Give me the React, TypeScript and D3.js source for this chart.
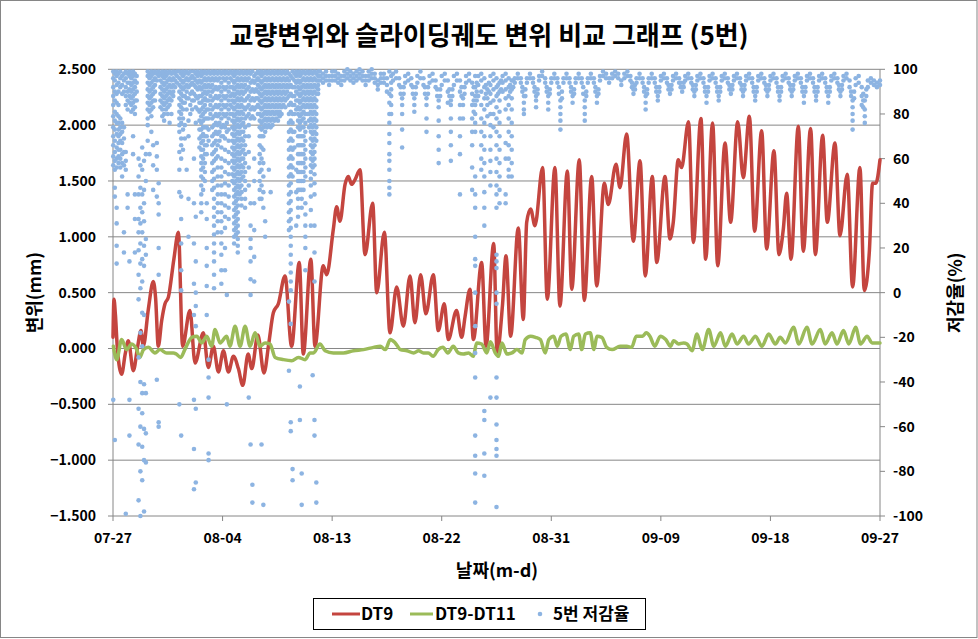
import React from 'react';
import * as d3 from 'd3';

const W = 978, H = 639;
const xTickDays = [0, 9, 18, 27, 36, 45, 54, 63];
const xTickLabels = ["07-27", "08-04", "08-13", "08-22", "08-31", "09-09", "09-18", "09-27"];
const leftTicks = [-1.5, -1, -0.5, 0, 0.5, 1, 1.5, 2, 2.5];
const rightTicks = [-100, -80, -60, -40, -20, 0, 20, 40, 60, 80, 100];
const seriesNames = ["DT9", "DT9-DT11", "5번 저감율"];

// DT9 [day, mm]
const dt9: [number, number][] = [
  [0.0,0.10],[0.08,0.44],[0.2,0.30],[0.36,0.0],[0.71,-0.23],[1.0,-0.05],[1.26,0.07],[1.67,-0.20],[2.0,0.0],[2.3,0.16],[2.49,0.02],[2.9,0.35],[3.31,0.60],[3.5,0.45],[3.72,0.02],[4.0,0.25],[4.27,0.40],[4.55,0.46],[5.0,0.80],[5.37,1.04],[5.72,0.02],[6.32,0.34],[6.74,-0.13],[7.42,0.14],[7.83,-0.17],[8.24,0.02],[8.66,-0.21],[9.07,-0.02],[9.48,-0.21],[9.89,-0.07],[10.3,-0.18],[10.66,-0.33],[11.1,-0.05],[11.4,-0.18],[11.9,0.12],[12.4,-0.22],[12.8,0.05],[13.17,0.32],[13.58,0.40],[14.13,0.65],[14.67,0.02],[15.3,0.77],[15.63,-0.05],[16.25,0.80],[16.59,0.02],[17.27,0.74],[17.55,0.66],[18.1,1.07],[18.37,1.27],[18.64,1.14],[19.06,1.47],[19.33,1.54],[19.6,1.47],[19.87,1.51],[20.29,1.60],[20.7,0.84],[21.33,1.30],[21.66,0.50],[22.29,1.04],[22.75,0.14],[23.3,0.55],[23.85,0.20],[24.4,0.65],[24.8,0.23],[25.27,0.66],[25.7,0.31],[26.31,0.66],[26.72,0.16],[27.21,0.40],[27.54,0.08],[28.22,0.34],[28.64,0.10],[28.91,0.28],[29.32,0.53],[29.6,0.08],[30.28,0.77],[30.64,0.02],[31.27,0.94],[31.55,-0.04],[32.0,0.4],[32.28,0.83],[32.66,0.11],[33.29,1.08],[33.7,0.26],[33.98,1.13],[34.3,1.25],[34.66,1.10],[35.29,1.62],[35.67,0.44],[36.3,1.62],[36.71,0.38],[37.32,1.59],[37.68,0.53],[38.3,1.69],[38.71,0.43],[39.32,1.54],[39.73,0.56],[40.36,1.48],[40.68,1.29],[41.32,1.65],[41.64,1.44],[42.19,1.92],[42.74,0.96],[43.29,1.68],[43.72,0.65],[44.3,1.54],[44.66,0.77],[45.34,1.54],[45.75,0.98],[46.02,1.13],[46.43,1.69],[46.7,1.62],[47.27,2.03],[47.67,0.95],[48.29,2.06],[48.68,0.80],[49.25,2.02],[49.67,0.74],[50.27,1.84],[50.73,1.13],[51.31,2.03],[51.77,1.53],[52.27,2.08],[52.7,1.05],[53.28,1.95],[53.69,0.89],[54.29,1.77],[54.7,0.84],[55.06,1.07],[55.33,1.39],[55.69,0.80],[56.29,1.99],[56.7,0.87],[57.3,1.97],[57.69,0.84],[58.29,1.91],[58.67,1.13],[59.3,1.84],[59.71,1.01],[60.31,1.56],[60.75,0.55],[61.35,1.62],[61.71,0.52],[62.12,0.86],[62.39,1.48],[62.66,1.48],[63.0,1.69]
];

// DT9-DT11 [day, mm]
const dt9dt11: [number, number][] = [
  [0.03,0.02],[0.3,-0.10],[0.71,0.08],[1.12,-0.01],[1.53,0.04],[1.95,-0.01],[2.2,-0.08],[2.5,-0.01],[2.9,0.01],[3.45,-0.04],[3.86,-0.01],[4.4,-0.04],[4.96,-0.04],[5.2,-0.05],[5.56,-0.08],[5.9,-0.01],[6.47,0.10],[6.88,0.11],[7.29,0.05],[7.7,0.11],[8.1,0.02],[8.38,0.17],[8.8,0.05],[9.34,0.11],[9.6,0.02],[10.03,0.20],[10.44,0.02],[10.85,0.20],[11.26,0.02],[11.67,0.14],[12.08,0.02],[12.49,0.05],[12.9,0.04],[13.32,-0.08],[14.0,-0.10],[14.68,-0.11],[15.23,-0.08],[15.78,-0.10],[16.19,-0.04],[16.47,-0.04],[17.0,0.04],[17.42,-0.02],[18.1,-0.04],[18.93,-0.04],[19.75,-0.02],[20.58,-0.01],[21.4,0.01],[21.95,0.02],[22.37,-0.01],[22.78,0.08],[23.18,0.05],[23.6,-0.01],[24.15,-0.02],[24.7,-0.04],[25.1,-0.02],[25.5,-0.04],[25.9,-0.04],[26.3,-0.07],[26.7,-0.01],[27.1,0.01],[27.5,-0.04],[27.95,0.02],[28.36,-0.04],[28.77,-0.05],[29.2,-0.04],[29.6,-0.07],[29.87,0.05],[30.28,0.04],[30.7,-0.04],[31.0,0.06],[31.4,-0.04],[31.67,-0.07],[31.95,0.05],[32.36,-0.05],[32.77,-0.04],[33.18,-0.01],[33.6,-0.04],[33.86,0.08],[34.3,0.11],[34.7,0.10],[35.1,0.08],[35.5,-0.04],[35.8,0.08],[36.2,0.11],[36.5,0.02],[36.8,0.11],[37.2,0.13],[37.56,-0.01],[37.84,0.11],[38.25,0.13],[38.5,-0.01],[38.8,0.13],[39.2,0.14],[39.5,-0.01],[39.75,0.11],[40.15,0.10],[40.55,0.01],[41.0,-0.01],[41.65,0.02],[42.2,0.02],[42.6,0.01],[42.98,0.11],[43.5,0.11],[43.8,0.14],[44.1,0.11],[44.5,0.02],[44.96,0.11],[45.4,0.08],[45.8,0.02],[46.05,0.07],[46.46,0.04],[46.87,0.05],[47.15,0.04],[47.56,-0.02],[47.97,0.13],[48.4,-0.01],[48.93,0.17],[49.35,0.02],[49.9,0.14],[50.3,0.02],[50.85,0.13],[51.26,0.04],[51.8,0.11],[52.2,0.04],[52.77,0.11],[53.3,0.02],[53.86,0.13],[54.4,0.04],[54.8,0.10],[55.23,0.05],[55.9,0.19],[56.33,0.04],[57.0,0.19],[57.42,0.04],[58.1,0.17],[58.5,0.04],[59.06,0.14],[59.47,0.04],[60.0,0.16],[60.44,0.04],[61.0,0.19],[61.4,0.04],[61.94,0.11],[62.35,0.05],[63.0,0.05]
];

// 5번 저감율 [day, values (%) observed around that time]
const rateEarly: [number, number[]][] = [
  [0.02,[99,96,92,88,84,79,74,70,66,61,57,-48]],
  [0.15,[98,95,90,86,81,77,73,68,63,59,55,47,43,-66]],
  [0.3,[99,97,93,89,85,80,76,71,65,60,56,38,31,21,13]],
  [0.45,[98,94,90,84,79,76,73,70,67,64,61,58]],
  [0.6,[99,96,92,78,74,71,68,64,60,56]],
  [0.75,[97,93,89,76,72,67,62,58,52]],
  [0.9,[98,95,90,74,69,63,57,27,18]],
  [1.05,[99,96,92,88,84,63,59,55,-99]],
  [1.2,[98,94,90,86,82,44,38]],
  [1.35,[99,97,94,91,88,85,14,-48,-64]],
  [1.5,[98,96,93,90,87,84,81]],
  [1.65,[99,97,94,91,88,85,82,70,62]],
  [1.8,[98,95,92,89,86,83,80,44,33,18]],
  [1.95,[97,94,90,86]],
  [2.1,[60,52,44,33,27,19,8,-3,-29,-52,-68,-93]],
  [2.25,[57,47,38,31,22,13,2,-18,-40,-60,-80,-100]],
  [2.4,[65,55,44,36,27,15,5,-9,-24,-45,-54,-69,-84]],
  [2.55,[59,46,40,32,21,12,-10,-41,-61,-75,-98]],
  [2.7,[62,50,24,17,-45,-63,-76]],
  [2.85,[99,97,94,91,88,85,82,78,75,68]],
  [3.0,[98,96,93,90,87,84,81,62]],
  [3.15,[99,97,94,91,88,85,82,79,72]],
  [3.3,[98,95,92,89,86,83,66,57,46]],
  [3.45,[99,96,93,90,86]],
  [3.6,[98,95,67,61,55,43,-39]],
  [3.75,[99,97,49,40,35,20,8,-58,-60]],
  [3.9,[98,95,92,89,86,83]],
  [4.05,[99,97,94,91,88,85,82,79]],
  [4.2,[98,96,93,90,87,84,80,77]],
  [4.35,[99,97,94,91,88,85,82]],
  [4.5,[98,95,92,89,86,83,80]],
  [4.65,[99,96,93,90,87,84,76]],
  [4.8,[98,95,92,89,86,80]],
  [4.95,[99,96,93,90,88]],
  [5.1,[98,95,92]],
  [5.25,[99,97,94]],
  [5.45,[99,96,93,90,87,84,81,78,75,72,63,55,45,-50]],
  [5.6,[98,95,92,89,86,83,80,76,69,66,60,43,33,22,10,1,-64]],
  [5.75,[99,97,94,91,88,85,82,78,73,64]],
  [5.9,[98,95,92,88,85,75,69]],
  [6.05,[99,96,93,90,87,82,55]],
  [6.2,[98,95,92,87,77,70,42,25]],
  [6.35,[99,96,93,89,84,80]],
  [6.5,[97,94,90,86,82]],
  [6.65,[99,96,93,89,86,60,40,22,4,-10,-48,-70,-88]],
  [6.8,[98,95,92,88,83,76,34,14,0,-6,-15,-52,-85]],
  [6.95,[99,97,94,91,87,82]],
  [7.1,[98,95,92,88,85,81,77,73,69,65]],
  [7.25,[99,97,94,91,88,85,82,79,76,73,70,67,64,61,58,55,52,48,44,40,36]],
  [7.4,[98,95,92,89,86,83,80,77,74,71,68,64,60,56,51,46]],
  [7.55,[99,96,93,90,87,84,81,78,74,70,66,62,58,54,50]],
  [7.7,[98,95,92,89,86,82,78,74,70,66,62,40,33,20,12,3,-10]],
  [7.85,[99,96,93,90,86,82,78,73,68,-30,-38,-47,-72,-75]],
  [8.0,[98,95,92,88,84,80]],
  [8.15,[99,96,93,90,86,82,78,74,70,66,62,58,54,50,46]],
  [8.3,[98,95,91,87,83,79,75,71,67,63,59,55,51,47,42,38,34,30,26,22,18,14,8,2]],
  [8.45,[99,96,92,88,84,80,76,72,68,64,60]],
  [8.6,[98,95,91,87,83,79,75,71,66,61,56,52,48,44,40,36,32,27]],
  [8.75,[99,96,92,88,84,80,76,72,68]],
  [8.9,[98,94,90,86,82,78,74,70,65,60,56,52,48,44,40,36,32,27,22,17,10,4]],
  [9.05,[99,96,92,88,84,80,75,70]],
  [9.2,[98,95,91,87,83,79,74,69,64,59,54,49,44,39,34,29,20,10]],
  [9.35,[99,96,92,88,84,80,76,72,-1,-50]],
  [9.5,[98,94,90,86,82,78,73,68,63,58,53,48,43,38,33]],
  [9.65,[99,96,92,88,84,80]],
  [9.8,[98,95,92,89,86,83,80,77,74,71,68,65,62,59,56,53,50]],
  [9.95,[99,97,94,91,88,85,82,79,76,73,70,67,64,61,58,55,52,49,46,43,40,37,34,31,28,25,22]],
  [10.1,[98,95,92,89,86,83,80,77,74,71,68,65,62,59,56,53,50,47,44,41,38,35,32,29,26]],
  [10.25,[99,96,93,90,87,84,81,78,75,72,69,66,63,60,57,54,51,48,45,42,39,36,33,30,27,24,21,18]],
  [10.4,[98,95,92,89,86,83,80,77,74,71,68,65,62,59,56,53,50,47,44]],
  [10.55,[99,96,93,90,87,84,81,78,75,72,69,66,63,60,57,54,51,48,45,42,39]],
  [10.7,[98,95,92,89,86,83,80,76,72,68,64,60,56,52]],
  [10.85,[99,96,93,90,86,82,78,74,70,66,62,58,54,50,46,42,38]],
  [11.0,[98,95,91,87,83,79]],
  [11.15,[99,96,92,88,84,80,75,70,63,56,48,-47]],
  [11.3,[98,94,90,86,82,78,40,30,24,20,14,6,-1,-68]],
  [11.45,[99,95,91,87,83,79,-86,-94]],
  [11.6,[97,94,90,86,82,78,60,50,40,28,16,5]],
  [11.75,[98,95,91,87,83]],
  [11.9,[99,96,93,90,87,84,80]],
  [12.05,[98,95,92,89,86,83,80,77,74,70,66,62,58,54,50,46,42]],
  [12.2,[99,97,94,91,88,85,82,79,76,73,70,65,60,55,48,42,-68]],
  [12.35,[98,95,92,89,86,83,80,77,74,70,64,58,52,45,38,-95]],
  [12.5,[99,96,93,90,87,84,81,78,75,72,32,25]],
  [12.65,[98,95,92,89,86,83,80,77,74]],
  [12.8,[99,96,93,90,87,84,81,78,75,55]],
  [12.95,[98,95,92,89,86,83,80,77,74,45]],
  [13.1,[99,96,93,90,87,84,81,78,75]],
  [13.25,[98,95,92,89,86,83,80,77]],
  [13.4,[99,96,93,90,87,84,81,78]],
  [13.55,[98,95,92,89,86,83,80,77]],
  [13.7,[99,96,93,90,87,84,81,79]],
  [13.85,[98,95,92,89,86,83,80]],
  [14.0,[99,96,93,90,87,84]],
  [14.15,[98,95,92,89,86,83]],
  [14.3,[99,96,93,90,87]],
  [14.45,[98,95,92,88,84,80,76,72,68,64,60,56,52,48,44,40,36,32,28,-4,-35]],
  [14.6,[97,93,89,85,81,77,73,69,65,61,57,53,49,45,41,37,33,29,25,21,17,13,9,5,1,-14,-58,-62]],
  [14.75,[99,96,92,88,84,80,76,72,68,64,60,56,52,-79,-84]],
  [14.9,[98,95,92,88,84,80,72,65]],
  [15.05,[99,97,94,90,86,82,55,45,30]],
  [15.2,[98,95,92,89,86,83,80,77,74,70,66,62,58,54,50,46,42,38,34]],
  [15.35,[99,97,94,91,88,85,82,79,76,73,70,66,62,58,54,50,46,-42,-57]],
  [15.5,[98,95,92,89,86,83,80,77,74,70,66,62,58,54,50,46,42,38,-81,-95]],
  [15.65,[99,96,93,90,87,84,81,78,74,70,66,62,58,54,50,46]],
  [15.8,[98,95,92,89,86,83,80,76,72,68,64,60,56,52,40,35,30,25,20,10]],
  [15.95,[99,96,93,90,87,84,80]],
  [16.1,[98,95,92,89,86,83,80,77,74]],
  [16.25,[99,96,93,90,87,84,81,78,75,72,69,66,63,60,57,54,51,48,43,37,30]],
  [16.4,[98,95,92,89,86,83,80,77,74,71,68,65,62,59,56,-37]],
  [16.55,[99,96,93,90,87,84,81,78,75,72,69,66,63,60,57,53,49,44,30,18,5,-57,-64]],
  [16.7,[98,95,92,89,86,83,80,77,74,71,68,-85,-94]],
  [16.85,[99,97,95,93,91,89]]
];

const rateMid: [number, number[]][] = [
  [17,[99,97,95]],[17.25,[98,96,94]],[17.5,[99,97,95]],[17.75,[97,95,93]],
  [18,[99,97,95]],[18.25,[99,97,95]],[18.5,[98,96,94]],[18.75,[97,95,93]],
  [19,[99,97,95]],[19.25,[100,98,96]],[19.5,[99,97,95]],[19.75,[98,96,94]],
  [20,[99,97,95]],[20.25,[100,98,96]],[20.5,[99,97,95]],[20.75,[97,95,93]],
  [21,[99,97,95]],[21.25,[100,98,96]],[21.5,[98,96,94]],[21.75,[95,93,91]],
  [22,[98,96,94]],[22.25,[98,96,94]],[22.5,[96,93,90]],
  [22.7,[99,89,85,80,76,71,67,62,59,55,50,47,44]],[22.85,[97,94,91,88,84,80]],
  [23,[98,95]],[23.25,[99,96]],[23.5,[96,93]],[23.625,[92,89]],[23.75,[87,84,80,73,65]],[23.875,[92,89]],
  [24,[97,94]],[24.25,[98,95]],[24.5,[96,93]],[24.625,[92,89]],[24.75,[87,84,81]],[24.875,[92,89]],
  [25,[97,94]],[25.25,[99,96]],[25.5,[96,93]],[25.625,[92,89]],[25.75,[87,84,78,72]],[25.875,[92,89]],
  [26,[97,94]],[26.25,[98,95]],[26.5,[95,92]],[26.625,[91,88]],[26.75,[86,83,77,70,64,58]],[26.875,[91,88]],
  [27,[97,93]],[27.25,[98,95]],[27.5,[95,90,85]],[27.625,[91,88]],[27.75,[86,84,78,72,66,59]],[27.875,[91,88]],
  [28,[97,93]],[28.25,[98,95]],[28.5,[95,90,84,78,70,62,44]],[28.625,[92,88]],[28.75,[87,84,78]],[28.875,[92,89]],
  [29,[97,94]],[29.25,[98,95]],[29.5,[94,89,84,78,72,66,56,46]],[29.625,[92,86,81]],
  [29.75,[97,92,88,84,80,76,72,52,44,38,25,15,12,0,-15,-27,-38,-64,-73,-81,-94]],[29.875,[94,90,86]],
  [30,[97,93,88]],[30.25,[98,95,90,84,78,72,66,60,55]],[30.5,[96,92,87,82,76,70,64,58,52,45,38,30,-53,-57,-72,-82]],[30.625,[93,89]],[30.75,[91,87,84,79]],[30.875,[94,90]],
  [31,[97,93,89,85,80,75,70,64,59,54,48,-47]],[31.25,[98,95,91,86,80,74]],[31.5,[96,92,88,83,78,72,66,60,54,48,44,38,17,14,11,0,-5,-38,-47,-59,-66,-70,-73,-96]],[31.625,[93,89]],[31.75,[94,90,86,81,76,70,64,58,52,46,40]],[31.875,[95,91]],
  [32,[97,94,90]],[32.25,[98,95,91,87,82,67,60,44,40]],[32.5,[96,92,88,84,78,72,66,60,55,52]],[32.625,[93,90]],[32.75,[95,91,87,82,76,70,64,58,52]],[32.875,[95,92]]
];

const rateLate: [number, number[]][] = [
  [33,[96,94]],[33.25,[98,96]],[33.5,[96,94]],[33.625,[92,90]],[33.75,[88,85,82,80]],[33.875,[91,88]],
  [34,[96,94]],[34.25,[98,96]],[34.5,[96,94]],[34.625,[92,90]],[34.75,[88,86,83]],[34.875,[91,89]],
  [35,[97,95]],[35.25,[99,97]],[35.5,[96,94]],[35.625,[92,90]],[35.75,[88,85,82]],[35.875,[91,89]],
  [36,[96,94]],[36.25,[98,96]],[36.5,[96,94]],[36.625,[92,89]],[36.75,[86,83,80,77,73]],[36.875,[90,87]],
  [37,[96,94]],[37.25,[98,96]],[37.5,[96,94]],[37.625,[92,90]],[37.75,[88,85]],[37.875,[91,89]],
  [38,[96,94]],[38.25,[98,96]],[38.5,[96,94]],[38.625,[92,89]],[38.75,[86,83,80,77]],[38.875,[90,88]],
  [39,[96,94]],[39.25,[98,96]],[39.5,[96,94]],[39.625,[92,90]],[39.75,[88,85]],[39.875,[91,89]],
  [40,[97,95]],[40.25,[99,97]],[40.5,[98,96]],[40.75,[96,94]],
  [41,[98,96]],[41.25,[99,97]],[41.5,[98,96]],[41.75,[95,93]],
  [42,[98,96]],[42.25,[99,97]],[42.5,[97,95]],[42.625,[94,92]],[42.75,[91,89]],[42.875,[93,91]],
  [43,[96,94]],[43.25,[98,96]],[43.5,[96,94]],[43.625,[92,90]],[43.75,[88,85,82]],[43.875,[91,89]],
  [44,[96,94]],[44.25,[98,96]],[44.5,[96,94]],[44.625,[92,90]],[44.75,[88,86]],[44.875,[92,90]],
  [45,[97,95]],[45.25,[98,96]],[45.5,[96,94]],[45.625,[93,91]],[45.75,[91,89]],[45.875,[93,91]],
  [46,[97,95]],[46.25,[98,96]],[46.5,[96,94]],[46.625,[94,92]],[46.75,[92,90]],[46.875,[94,92]],
  [47,[97,95]],[47.25,[98,96]],[47.5,[96,94]],[47.625,[93,91]],[47.75,[90,88]],[47.875,[93,91]],
  [48,[97,95]],[48.25,[98,96]],[48.5,[96,94]],[48.625,[92,90]],[48.75,[88,85]],[48.875,[92,90]],
  [49,[97,95]],[49.25,[98,96]],[49.5,[96,94]],[49.625,[92,90]],[49.75,[88,86]],[49.875,[92,90]],
  [50,[97,95]],[50.25,[98,96]],[50.5,[96,94]],[50.625,[93,91]],[50.75,[91,89]],[50.875,[93,91]],
  [51,[97,95]],[51.25,[98,96]],[51.5,[96,94]],[51.625,[93,91]],[51.75,[90,88]],[51.875,[93,91]],
  [52,[97,95]],[52.25,[98,96]],[52.5,[96,94]],[52.625,[92,90]],[52.75,[88,86]],[52.875,[92,90]],
  [53,[97,95]],[53.25,[98,96]],[53.5,[96,94]],[53.625,[93,91]],[53.75,[90,88]],[53.875,[93,91]],
  [54,[97,95]],[54.25,[98,96]],[54.5,[96,94]],[54.625,[92,90]],[54.75,[88,86]],[54.875,[92,90]],
  [55,[97,95]],[55.25,[98,96]],[55.5,[96,94]],[55.625,[93,91]],[55.75,[90,88]],[55.875,[93,91]],
  [56,[97,95]],[56.25,[98,96]],[56.5,[96,94]],[56.625,[92,90]],[56.75,[88,85]],[56.875,[92,90]],
  [57,[97,95]],[57.25,[98,96]],[57.5,[96,94]],[57.625,[92,90]],[57.75,[88,86]],[57.875,[92,90]],
  [58,[97,95]],[58.25,[98,96]],[58.5,[96,94]],[58.625,[92,90]],[58.75,[88,85]],[58.875,[92,90]],
  [59,[97,95]],[59.25,[98,96]],[59.5,[96,94]],[59.625,[93,91]],[59.75,[90,88]],[59.875,[93,91]],
  [60,[97,95]],[60.25,[98,96]],[60.5,[95,92]],[60.625,[90,88]],[60.75,[86,83,80,77,73]],[60.875,[90,87]],
  [61,[96,93]],[61.25,[97,94]],[61.5,[92,88,84]],[61.625,[89,86,83]],[61.75,[86,82,79,76]],[61.875,[91,88]],
  [62,[95,92]],[62.25,[96,94]],[62.5,[95,93]],[62.75,[94,92]],[63,[95,93]]
];

const RED = "#C4453F";
const GREEN = "#9BBB59";
const BLUE = "#8DB4E2";
const GRID = "#868686";
const FONT = "'Noto Sans CJK KR', 'Noto Sans', sans-serif";

export default function App() {
  const left = 113, right = 880, top = 69.3, bottom = 516;
  const x = d3.scaleLinear().domain([0, 63]).range([left, right]);
  const yL = d3.scaleLinear().domain([-1.5, 2.5]).range([bottom, top]);
  const yR = d3.scaleLinear().domain([-100, 100]).range([bottom, top]);
  const lineL = d3.line<[number, number]>().x(d => x(d[0])).y(d => yL(d[1])).curve(d3.curveMonotoneX);

  const pts: [number, number][] = [];
  for (const grp of [rateEarly, rateMid, rateLate]) {
    for (const [d, vals] of grp) for (const v of vals) pts.push([d, v]);
  }

  return (
    <div style={{ position: 'absolute', left: 0, top: 0 }}>
      <svg width={W} height={H} style={{ display: 'block', background: '#fff' }}>
        <rect x={0.5} y={0.5} width={W - 1.5} height={H - 2} fill="#fff" stroke={GRID} />
        <text x={489} y={45} textAnchor="middle" fontFamily={FONT} fontWeight="bold" fontSize={26}>교량변위와 슬라이딩궤도 변위 비교 그래프 (5번)</text>

        {leftTicks.map(t => (
          <line key={'g' + t} x1={left} x2={right} y1={yL(t)} y2={yL(t)} stroke={GRID} strokeWidth={1} />
        ))}
        {leftTicks.map(t => (
          <line key={'lt' + t} x1={left - 5} x2={left} y1={yL(t)} y2={yL(t)} stroke={GRID} strokeWidth={1} />
        ))}
        <line x1={left} x2={left} y1={top} y2={bottom} stroke={GRID} />
        <line x1={right} x2={right} y1={top} y2={bottom} stroke={GRID} />
        {rightTicks.map(t => (
          <line key={'rt' + t} x1={right} x2={right + 5} y1={yR(t)} y2={yR(t)} stroke={GRID} />
        ))}
        {xTickDays.map(t => (
          <line key={'xt' + t} x1={x(t)} x2={x(t)} y1={bottom} y2={bottom + 5} stroke={GRID} />
        ))}

        <path d={lineL(dt9) || ''} fill="none" stroke={RED} strokeWidth={3.5} strokeLinejoin="round" strokeLinecap="round" />
        <path d={lineL(dt9dt11) || ''} fill="none" stroke={GREEN} strokeWidth={3.5} strokeLinejoin="round" strokeLinecap="round" />
        <g>
          {pts.map((p, i) => (
            <circle key={i} cx={x(p[0])} cy={yR(p[1])} r={2.3} fill={BLUE} />
          ))}
        </g>

        {leftTicks.map(t => (
          <text key={'ll' + t} x={96} y={yL(t)} dy="0.35em" textAnchor="end" fontFamily={FONT} fontWeight="bold" fontSize={14}>{d3.format('.3f')(t)}</text>
        ))}
        {rightTicks.map(t => (
          <text key={'rl' + t} x={893} y={yR(t)} dy="0.35em" textAnchor="start" fontFamily={FONT} fontWeight="bold" fontSize={14}>{String(t)}</text>
        ))}
        {xTickDays.map((t, i) => (
          <text key={'xl' + t} x={x(t)} y={543} textAnchor="middle" fontFamily={FONT} fontWeight="bold" fontSize={14}>{xTickLabels[i]}</text>
        ))}

        <text x={497} y={577} textAnchor="middle" fontFamily={FONT} fontWeight="bold" fontSize={18}>날짜(m-d)</text>
        <text transform={`translate(41,${(top + bottom) / 2}) rotate(-90)`} textAnchor="middle" fontFamily={FONT} fontWeight="bold" fontSize={18}>변위(mm)</text>
        <text transform={`translate(962,${(top + bottom) / 2}) rotate(-90)`} textAnchor="middle" fontFamily={FONT} fontWeight="bold" fontSize={18}>저감율(%)</text>

        <rect x={313.5} y={598.5} width={332} height={31} fill="#fff" stroke="#000" />
        <line x1={332} x2={360} y1={614} y2={614} stroke={RED} strokeWidth={3} />
        <text x={361} y={620} fontFamily={FONT} fontWeight="bold" fontSize={17}>{seriesNames[0]}</text>
        <line x1={410} x2={433} y1={614} y2={614} stroke={GREEN} strokeWidth={3} />
        <text x={435} y={620} fontFamily={FONT} fontWeight="bold" fontSize={17}>{seriesNames[1]}</text>
        <circle cx={540} cy={614} r={2.3} fill={BLUE} />
        <text x={553} y={620} fontFamily={FONT} fontWeight="bold" fontSize={17}>{seriesNames[2]}</text>
      </svg>
    </div>
  );
}
